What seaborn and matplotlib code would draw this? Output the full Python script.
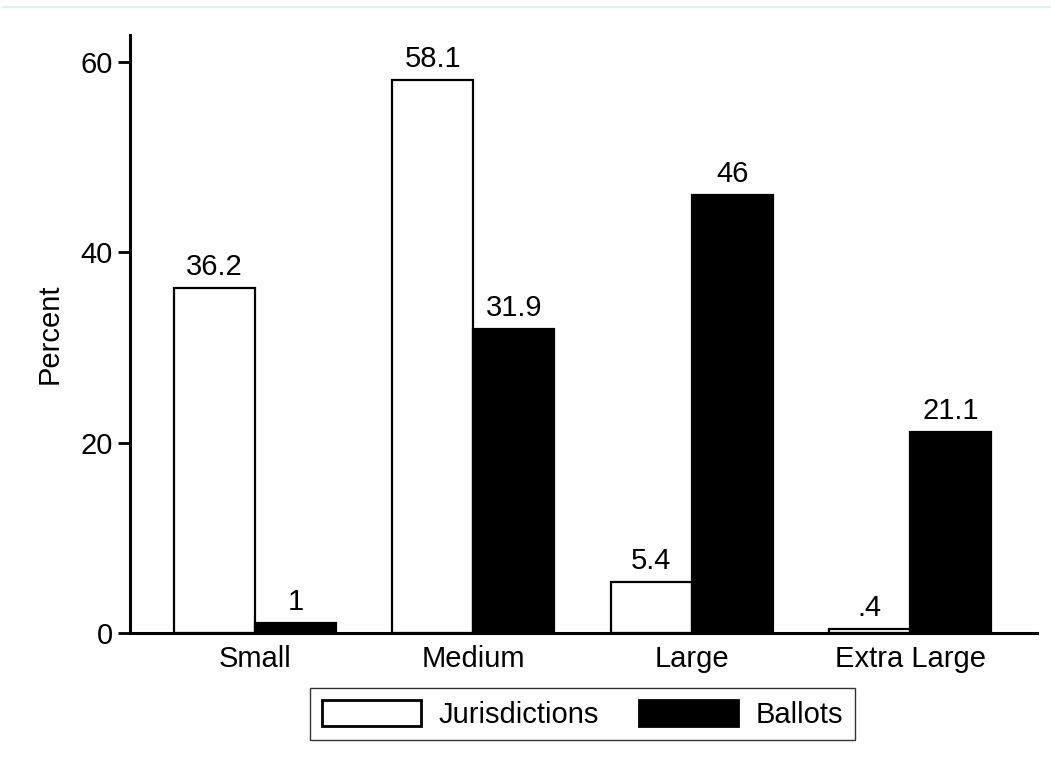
import pandas as pd
import numpy as np
import matplotlib.pyplot as plt
import seaborn as sns
from matplotlib.lines import Line2D

# data
sizes = ['Small', 'Medium', 'Large', 'Extra Large']
jurisdictions = [36.2, 58.1, 5.4, 0.4]
ballots = [1.0, 31.9, 46.0, 21.1]
series = ['Jurisdictions', 'Ballots']

df = pd.DataFrame({
    'size': sizes * 2,
    'pct': jurisdictions + ballots,
    'series': [series[0]] * len(sizes) + [series[1]] * len(sizes),
})

def fmt(v):
    # stata style: no leading zero, no trailing .0
    s = ('%.1f' % v).rstrip('0').rstrip('.')
    if s.startswith('0.'):
        s = s[1:]
    return s

sns.set_style('ticks')
plt.rcParams['font.family'] = ['Liberation Sans', 'DejaVu Sans']
plt.rcParams['font.size'] = 21
plt.rcParams['text.color'] = 'black'
plt.rcParams['axes.labelcolor'] = 'black'
plt.rcParams['xtick.color'] = 'black'
plt.rcParams['ytick.color'] = 'black'

FS = 21

fig = plt.figure(figsize=(10.51, 7.70), dpi=100)
ax = fig.add_axes([0.1237, 0.178, 0.9867 - 0.1237, 0.9545 - 0.178])

sns.barplot(data=df, x='size', y='pct', hue='series', order=sizes,
            hue_order=series, palette=['white', 'black'], edgecolor='black',
            linewidth=1.6, width=0.742, ax=ax)

for cont in ax.containers:
    vals = [b.get_height() for b in cont]
    ax.bar_label(cont, labels=[fmt(v) for v in vals], padding=5,
                 fontsize=FS, color='black')

ax.set_xlim(-0.572, 3.58)
ax.set_ylim(0, 62.8)
ax.set_yticks([0, 20, 40, 60])
ax.set_xlabel('')
ax.set_ylabel('Percent', fontsize=FS, labelpad=12)
ax.tick_params(axis='y', length=8.5, width=2, labelsize=FS, pad=4)
ax.tick_params(axis='x', length=0, labelsize=FS, pad=9)
for sp in ['left', 'bottom']:
    ax.spines[sp].set_linewidth(2.2)
    ax.spines[sp].set_color('black')
sns.despine(ax=ax)

handles, labels = ax.get_legend_handles_labels()
ax.get_legend().remove()
leg = fig.legend(handles, labels, loc='center', bbox_to_anchor=(0.5542, 0.0727),
                 ncol=2, frameon=True, fancybox=False, edgecolor='black',
                 fontsize=FS, handlelength=3.4, handleheight=1.0,
                 columnspacing=1.4, handletextpad=0.58, borderpad=0.4,
                 borderaxespad=0)
leg.get_frame().set_linewidth(1)
for h in leg.legend_handles:
    h.set_linewidth(2)

# faint rule along the top
fig.add_artist(Line2D([0.003, 1.0], [0.991, 0.991], color='#e6eded', lw=1.5))

fig.savefig('out.png', dpi=100, facecolor='white')
